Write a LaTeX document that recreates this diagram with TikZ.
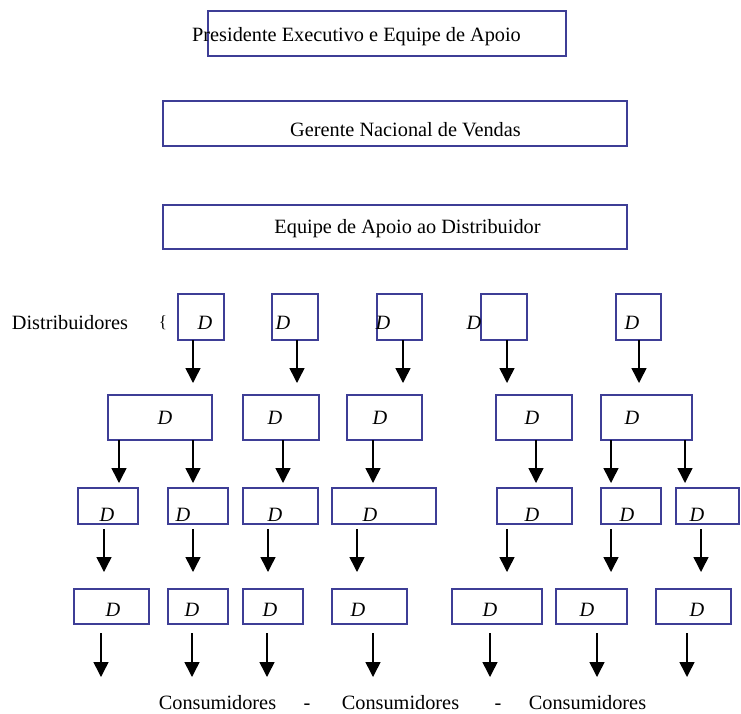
\documentclass[tikz,border=0pt]{standalone}
\usepackage{fontspec}
\setmainfont{Liberation Serif}
\usetikzlibrary{arrows.meta}
\definecolor{boxblue}{RGB}{62,62,150}
\tikzset{
  box/.style={draw=boxblue, line width=1.6pt, fill=white, inner sep=0pt, outer sep=0pt},
  lbl/.style={font=\fontsize{20.3}{24}\selectfont, inner sep=0pt, anchor=base},
  dlbl/.style={font=\fontsize{20.3}{24}\selectfont\itshape, inner sep=0pt, anchor=base},
  arr/.style={line width=1.5pt, -{Triangle[length=15pt,width=15pt]}},
}
\newcommand{\bx}[5]{\node[box, minimum width=#4pt, minimum height=#5pt] (#1) at (#2,#3) {};}
\begin{document}
\begin{tikzpicture}[x=1pt, y=-1pt]
\useasboundingbox (0,0) rectangle (741,713);

% top management boxes
\bx{P}{387}{33.5}{358}{45}
\bx{G}{395}{123.5}{464}{45}
\bx{S}{395}{227}{464}{44}
\node[lbl] (tP) at (356.5,41) {Presidente Executivo e Equipe de Apoio};
\node[lbl] (tG) at (405.5,136) {Gerente Nacional de Vendas};
\node[lbl] (tS) at (407.5,233) {Equipe de Apoio ao Distribuidor};

% distributor label
\node[lbl] (dist) at (70,329) {Distribuidores};
\node[lbl, font=\fontsize{17}{20}\selectfont] (brace) at (163,327) {\{};

% row 1
\bx{A1}{201}{317}{46}{46}
\bx{A2}{295}{317}{46}{46}
\bx{A3}{399.5}{317}{45}{46}
\bx{A4}{504}{317}{46}{46}
\bx{A5}{638.5}{317}{45}{46}
% row 2
\bx{B1}{160}{417.5}{104}{45}
\bx{B2}{281}{417.5}{76}{45}
\bx{B3}{384.5}{417.5}{75}{45}
\bx{B4}{534}{417.5}{76}{45}
\bx{B5}{646.5}{417.5}{91}{45}
% row 3
\bx{C1}{108}{506}{60}{36}
\bx{C2}{198}{506}{60}{36}
\bx{C3}{280.5}{506}{75}{36}
\bx{C4}{384}{506}{104}{36}
\bx{C5}{534.5}{506}{75}{36}
\bx{C6}{631}{506}{60}{36}
\bx{C7}{707.5}{506}{63}{36}
% row 4
\bx{E1}{111.5}{606.5}{75}{35}
\bx{E2}{198}{606.5}{60}{35}
\bx{E3}{273}{606.5}{60}{35}
\bx{E4}{369.5}{606.5}{75}{35}
\bx{E5}{497}{606.5}{90}{35}
\bx{E6}{591.5}{606.5}{71}{35}
\bx{E7}{693.5}{606.5}{75}{35}

% D labels
\foreach \n/\x/\y in {dA1/205/329, dA2/283/329, dA3/383/329, dA4/474/329, dA5/632/329,
  dB1/165/424, dB2/275/424, dB3/380/424, dB4/532/424, dB5/632/424,
  dC1/107/521, dC2/183/521, dC3/275/521, dC4/370/521, dC5/532/521, dC6/627/521, dC7/697/521,
  dE1/113/616, dE2/192/616, dE3/270/616, dE4/358/616, dE5/490/616, dE6/587/616, dE7/697/616}
  \node[dlbl] (\n) at (\x,\y) {D};

% arrows between rows
\foreach \s/\t/\x in {A1/B1/193, A2/B2/297, A3/B3/403, A4/B4/507, A5/B5/639} {
  \coordinate (c) at (\x,0);
  \draw[arr, shorten >=12pt] (\s.south -| c) -- (\t.north -| c);
}
\foreach \s/\t/\x in {B1/C1/119, B1/C2/193, B2/C3/283, B3/C4/373, B4/C5/536, B5/C6/611, B5/C7/685} {
  \coordinate (c) at (\x,0);
  \draw[arr, shorten >=5pt] (\s.south -| c) -- (\t.north -| c);
}
\foreach \s/\t/\x in {C1/E1/104, C2/E2/193, C3/E3/268, C4/E4/357, C5/E5/507, C6/E6/611, C7/E7/701} {
  \coordinate (c) at (\x,0);
  \draw[arr, shorten <=5pt, shorten >=17pt] (\s.south -| c) -- (\t.north -| c);
}
% arrows to consumers
\foreach \s/\x in {E1/101, E2/192, E3/267, E4/373, E5/490, E6/597, E7/687} {
  \coordinate (end\s) at (\x,677);
  \draw[arr, shorten <=9pt] (\s.south -| end\s) -- (end\s);
}

% consumers line
\node[lbl] (k1) at (217.5,709) {Consumidores};
\node[lbl] (m1) at (307,709) {-};
\node[lbl] (k2) at (400.5,709) {Consumidores};
\node[lbl] (m2) at (498,709) {-};
\node[lbl] (k3) at (587.5,709) {Consumidores};
\end{tikzpicture}
\end{document}
